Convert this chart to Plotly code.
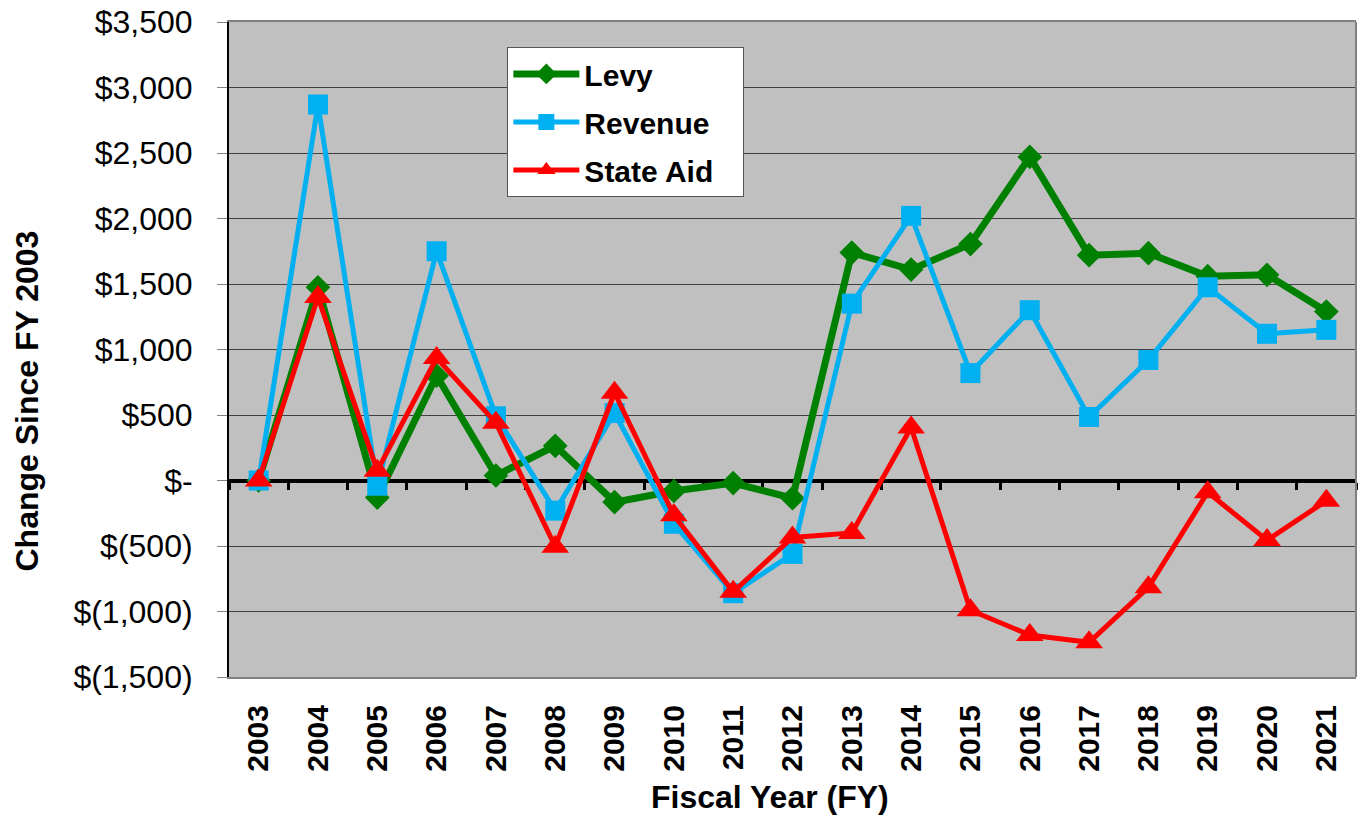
import plotly.graph_objects as go

years = [str(y) for y in range(2003, 2022)]
levy = [0, 1475, -130, 800, 38, 265, -165, -80, -20, -135, 1740, 1610, 1805, 2470, 1720, 1735, 1560, 1570, 1290]
revenue = [0, 2870, -40, 1750, 490, -230, 515, -330, -860, -560, 1350, 2020, 820, 1300, 485, 920, 1475, 1120, 1150]
state_aid = [0, 1400, 75, 935, 440, -505, 670, -265, -850, -435, -400, 405, -990, -1180, -1235, -815, -90, -455, -155]

y_ticks = [-1500, -1000, -500, 0, 500, 1000, 1500, 2000, 2500, 3000, 3500]


def money(v):
    if v == 0:
        return "$-"
    if v < 0:
        return "$({:,})".format(-v)
    return "${:,}".format(v)


y_labels = [money(v) for v in y_ticks]
y_min, y_max = y_ticks[0], y_ticks[-1]

FONT = "Liberation Sans, Arial, sans-serif"
NB = "\u00a0"

fig = go.Figure()
fig.add_trace(go.Scatter(
    x=years, y=levy, name="<b>Levy</b>", mode="lines+markers",
    line=dict(color="#008000", width=7),
    marker=dict(symbol="diamond", size=19, color="#008000"),
    legendgroup="a"))
fig.add_trace(go.Scatter(
    x=years, y=revenue, name="<b>Revenue</b>", mode="lines+markers",
    line=dict(color="#00B0F0", width=5),
    marker=dict(symbol="square", size=20, color="#00B0F0"),
    legendgroup="b"))
fig.add_trace(go.Scatter(
    x=years, y=state_aid, name="<b>State Aid</b>" + NB * 3, mode="lines+markers",
    line=dict(color="#FF0000", width=5),
    marker=dict(symbol="triangle-up", size=24, color="#FF0000"),
    legendgroup="c"))
# dummy trace for the zero-crossing category axis
fig.add_trace(go.Scatter(x=years, y=[None] * len(years), xaxis="x2", yaxis="y",
                         showlegend=False, hoverinfo="skip", mode="lines"))

fig.update_layout(
    width=1363, height=815,
    margin=dict(l=229, r=7, t=22, b=138),
    paper_bgcolor="white",
    plot_bgcolor="#C0C0C0",
    font=dict(family=FONT, color="black"),
    showlegend=True,
    legend=dict(
        x=0.247, y=0.962, xanchor="left", yanchor="top",
        bgcolor="white", bordercolor="#555555", borderwidth=1,
        font=dict(size=30, family=FONT, color="black"),
        tracegroupgap=6, itemwidth=66,
    ),
    xaxis=dict(
        type="category", categoryorder="array", categoryarray=years,
        tickangle=-90, tickfont=dict(size=30, family=FONT),
        tickprefix="<b>", ticksuffix="</b>",
        showgrid=False, ticks="", ticklabelstandoff=14,
        showline=True, linecolor="#808080", linewidth=2, mirror=True,
        automargin=False,
        range=[-0.5, len(years) - 0.5],
    ),
    xaxis2=dict(
        type="category", categoryorder="array", categoryarray=years,
        overlaying="x", anchor="free", position=(0 - y_min) / (y_max - y_min),
        side="bottom", showticklabels=False, showgrid=False,
        showline=True, linecolor="black", linewidth=4,
        ticks="outside", tickson="boundaries", ticklen=7, tickwidth=3, tickcolor="black",
        layer="below traces", range=[-0.5, len(years) - 0.5],
    ),
    yaxis=dict(
        range=[y_min, y_max], tickvals=y_ticks, ticktext=y_labels,
        tickfont=dict(size=32, family=FONT),
        showgrid=True, gridcolor="#404040", gridwidth=1,
        zeroline=False,
        showline=True, linecolor="black", linewidth=2,
        ticks="outside", ticklen=10, tickcolor="#808080",
        ticklabelstandoff=18, automargin=False, ticklabeloverflow="allow",
    ),
    annotations=[
        dict(text="<b>Change Since FY 2003</b>", xref="paper", yref="paper",
             x=-0.179, y=0.421, xanchor="center", yanchor="middle", textangle=-90,
             showarrow=False, font=dict(size=32, family=FONT, color="black")),
        dict(text="<b>Fiscal Year (FY)</b>", xref="paper", yref="paper",
             x=0.48, y=-0.183, xanchor="center", yanchor="middle",
             showarrow=False, font=dict(size=32, family=FONT, color="black")),
    ],
)

fig.add_shape(type="line", xref="paper", yref="paper", x0=1, x1=1, y0=0, y1=1,
              line=dict(color="#808080", width=2))

fig.write_html("out.html", post_script="document.body.style.margin='0';",
               config={"displayModeBar": False})
